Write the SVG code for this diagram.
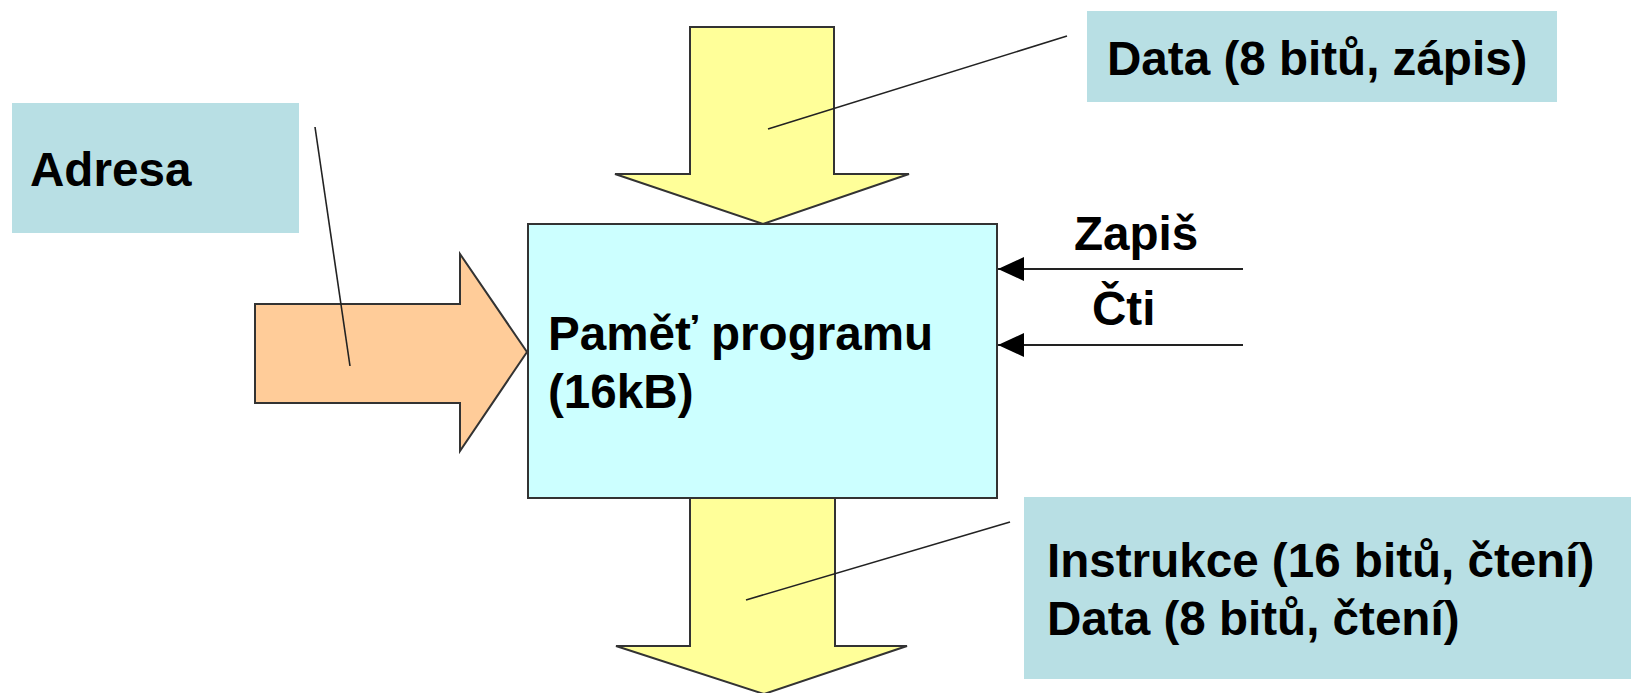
<svg xmlns="http://www.w3.org/2000/svg" width="1634" height="693" viewBox="0 0 1634 693">
  <defs>
    <marker id="arrowhead" viewBox="0 0 26 24" refX="26" refY="12" markerWidth="26" markerHeight="24" markerUnits="userSpaceOnUse" orient="auto">
      <path d="M0,0 L26,12 L0,24 Z" fill="#000"/>
    </marker>
  </defs>
  <style>
    .lbl { font-family: "Liberation Sans", Arial, sans-serif; font-weight: bold; font-size: 47.6px; fill: #000; }
    .tag { fill: #b8dfe4; stroke: none; }
    .mem { fill: #ccffff; stroke: #333; stroke-width: 2; }
    .bus-y { fill: #ffff99; stroke: #333; stroke-width: 2; stroke-linejoin: miter; }
    .bus-o { fill: #ffcc99; stroke: #333; stroke-width: 2; stroke-linejoin: miter; }
    .leader { stroke: #222; stroke-width: 1.6; fill: none; }
    .signal { stroke: #222; stroke-width: 2.2; fill: none; marker-end: url(#arrowhead); }
  </style>

  <rect width="1634" height="693" fill="#fff"/>

  <!-- bus arrows -->
  <g id="bus-data-in">
    <path class="bus-y" d="M690,27 L834,27 L834,174 L909,174 L763,224 L615,174 L690,174 Z"/>
  </g>
  <g id="bus-address">
    <path class="bus-o" d="M255,304 L460,304 L460,254 L527,352 L460,451 L460,403 L255,403 Z"/>
  </g>
  <g id="bus-data-out">
    <path class="bus-y" d="M690,498 L835,498 L835,646 L907,646 L764,694 L616,646 L690,646 Z"/>
  </g>

  <!-- program memory -->
  <g id="program-memory">
    <rect class="mem" x="528" y="224" width="469" height="274"/>
    <text class="lbl" x="548" y="350">Paměť programu</text>
    <text class="lbl" x="548" y="408">(16kB)</text>
  </g>

  <!-- labels -->
  <g id="label-address">
    <rect class="tag" x="12" y="103" width="287" height="130"/>
    <text class="lbl" x="30" y="186">Adresa</text>
  </g>
  <g id="label-data-write">
    <rect class="tag" x="1087" y="11" width="470" height="91"/>
    <text class="lbl" x="1107" y="75">Data (8 bitů, zápis)</text>
  </g>
  <g id="label-data-read">
    <rect class="tag" x="1024" y="497" width="607" height="182"/>
    <text class="lbl" x="1047" y="577">Instrukce (16 bitů, čtení)</text>
    <text class="lbl" x="1047" y="635">Data (8 bitů, čtení)</text>
  </g>
  <g id="label-write">
    <text class="lbl" x="1074" y="250">Zapiš</text>
  </g>
  <g id="label-read">
    <text class="lbl" x="1092" y="325">Čti</text>
  </g>

  <!-- connectors -->
  <g id="connectors">
    <line class="leader" x1="315" y1="127" x2="350" y2="366"/>
    <line class="leader" x1="1067" y1="36" x2="768" y2="129"/>
    <line class="leader" x1="1010" y1="522" x2="746" y2="600"/>
    <line class="signal" x1="1243" y1="269" x2="998" y2="269"/>
    <line class="signal" x1="1243" y1="345" x2="998" y2="345"/>
  </g>
</svg>
